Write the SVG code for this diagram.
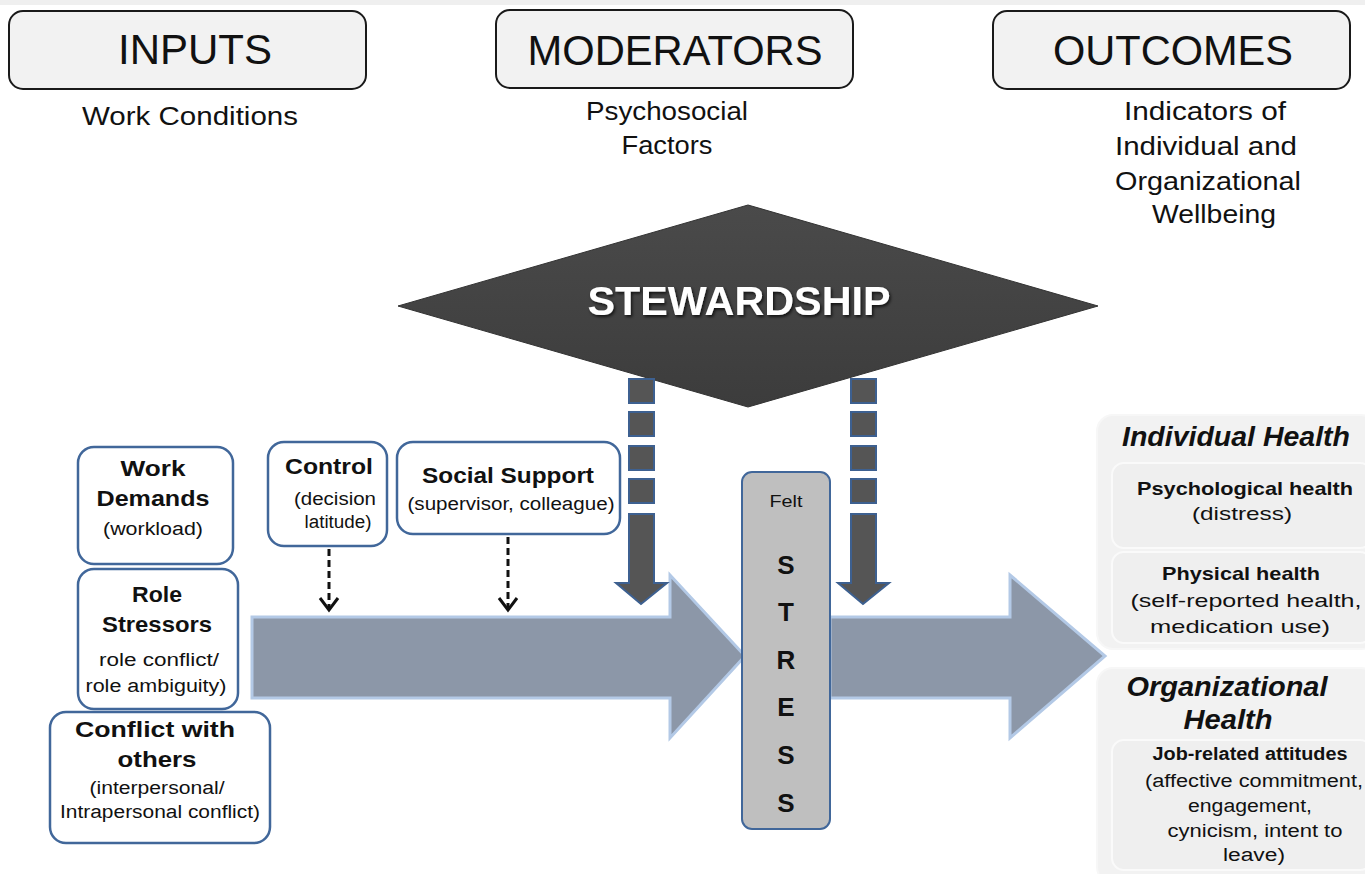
<svg xmlns="http://www.w3.org/2000/svg" width="1365" height="874" viewBox="0 0 1365 874">
<defs>
<style>
text{font-family:"Liberation Sans",Arial,sans-serif;fill:#111;text-anchor:middle}
.hdr{fill:#f2f2f2;stroke:#1a1a1a;stroke-width:2}
.ht{font-size:42px}
.sub{font-size:25px}
.in{fill:#fff;stroke:#41679a;stroke-width:2.5}
.b{font-weight:bold;font-size:22px}
.s{font-size:18px}
.big{fill:#8c97a8;stroke:#b3c9e6;stroke-width:3}
.mod{fill:#555;stroke:#3d6090;stroke-width:2}
.dash{stroke:#111;stroke-width:3;stroke-dasharray:7 4;fill:none}
.chev{stroke:#111;stroke-width:3;fill:none}
.panel{fill:#f2f2f2;stroke:#f7f7f7;stroke-width:2}
.inner{fill:#efefef;stroke:#fafafa;stroke-width:2}
.oh{font-weight:bold;font-style:italic;font-size:27px}
.ob{font-weight:bold;font-size:19px}
.os{font-size:19px}
.jb{font-weight:bold;font-size:18px}
.js{font-size:18px}
.st{font-weight:bold;font-size:26px}
</style>
<linearGradient id="dg" x1="0" y1="0" x2="0" y2="1">
<stop offset="0" stop-color="#4a4a4a"/><stop offset="1" stop-color="#3c3c3c"/>
</linearGradient>
<filter id="sh" x="-10%" y="-10%" width="130%" height="140%"><feDropShadow dx="1.5" dy="2" stdDeviation="1.5" flood-color="#000" flood-opacity="0.7"/></filter>
</defs>
<rect x="0" y="0" width="1365" height="874" fill="#fff"/>
<rect x="0" y="0" width="1365" height="5" fill="#efefef"/>

<g id="inputs"><rect class="hdr" x="9" y="11" width="357" height="78" rx="14"/><text class="ht" x="195" y="64" textLength="154" lengthAdjust="spacingAndGlyphs">INPUTS</text><text class="sub" x="190" y="125" textLength="216" lengthAdjust="spacingAndGlyphs">Work Conditions</text></g>
<g id="moderators"><rect class="hdr" x="496" y="10" width="357" height="78" rx="14"/><text class="ht" x="675" y="65" textLength="295" lengthAdjust="spacingAndGlyphs">MODERATORS</text><text class="sub" x="667" y="120" textLength="162" lengthAdjust="spacingAndGlyphs">Psychosocial</text><text class="sub" x="667" y="154" textLength="91" lengthAdjust="spacingAndGlyphs">Factors</text></g>
<g id="outcomes"><rect class="hdr" x="993" y="11" width="357" height="78" rx="14"/><text class="ht" x="1173" y="65" textLength="240" lengthAdjust="spacingAndGlyphs">OUTCOMES</text><text class="sub" x="1205" y="120" textLength="162" lengthAdjust="spacingAndGlyphs">Indicators of</text><text class="sub" x="1206" y="155" textLength="182" lengthAdjust="spacingAndGlyphs">Individual and</text><text class="sub" x="1208" y="190" textLength="186" lengthAdjust="spacingAndGlyphs">Organizational</text><text class="sub" x="1214" y="223" textLength="124" lengthAdjust="spacingAndGlyphs">Wellbeing</text></g>

<g id="flow">
<polygon class="big" points="252,617 670,617 670,575 745,656 670,738 670,698 252,698"/>
<polygon class="big" points="830,617 1010,617 1010,575 1105,656 1010,738 1010,698 830,698"/>
</g>

<g id="stewardship"><polygon points="398,306 748,205 1098,306 748,407" fill="url(#dg)" stroke="#333" stroke-width="1"/><text x="739" y="315" font-size="40" font-weight="bold" style="fill:#fff" filter="url(#sh)" textLength="303" lengthAdjust="spacingAndGlyphs">STEWARDSHIP</text></g>

<g id="connectors">
<rect class="mod" x="629" y="379" width="25" height="24"/><rect class="mod" x="629" y="412" width="25" height="24"/><rect class="mod" x="629" y="446" width="25" height="24"/><rect class="mod" x="629" y="479" width="25" height="24"/>
<polygon class="mod" points="629,514 654,514 654,583 667,583 641,604 616,583 629,583"/>
<rect class="mod" x="851" y="379" width="25" height="24"/><rect class="mod" x="851" y="412" width="25" height="24"/><rect class="mod" x="851" y="446" width="25" height="24"/><rect class="mod" x="851" y="479" width="25" height="24"/>
<polygon class="mod" points="851,514 876,514 876,583 889,583 863,604 838,583 851,583"/>
<line class="dash" x1="329" y1="549" x2="329" y2="608"/><polyline class="chev" points="320,598 329,610 338,598"/>
<line class="dash" x1="508" y1="537" x2="508" y2="608"/><polyline class="chev" points="499,598 508,610 517,598"/>
</g>

<g id="stress"><rect x="742" y="472" width="88" height="357" rx="10" fill="#bfbfbf" stroke="#41679a" stroke-width="2"/>
<text x="786" y="507" font-size="17" textLength="33" lengthAdjust="spacingAndGlyphs">Felt</text>
<text class="st" x="786" y="574">S</text><text class="st" x="786" y="621">T</text><text class="st" x="786" y="669">R</text><text class="st" x="786" y="716">E</text><text class="st" x="786" y="764">S</text><text class="st" x="786" y="812">S</text></g>

<g id="work-demands"><rect class="in" x="78" y="447" width="155" height="117" rx="16"/><text class="b" x="153" y="476" textLength="65" lengthAdjust="spacingAndGlyphs">Work</text><text class="b" x="153" y="506" textLength="113" lengthAdjust="spacingAndGlyphs">Demands</text><text class="s" x="153" y="535" textLength="100" lengthAdjust="spacingAndGlyphs">(workload)</text></g>
<g id="role-stressors"><rect class="in" x="78" y="569" width="160" height="140" rx="16"/><text class="b" x="157" y="602" textLength="50" lengthAdjust="spacingAndGlyphs">Role</text><text class="b" x="157" y="632" textLength="110" lengthAdjust="spacingAndGlyphs">Stressors</text><text class="s" x="159" y="666" textLength="120" lengthAdjust="spacingAndGlyphs">role conflict/</text><text class="s" x="156" y="692" textLength="141" lengthAdjust="spacingAndGlyphs">role ambiguity)</text></g>
<g id="conflict"><rect class="in" x="50" y="712" width="220" height="131" rx="16"/><text class="b" x="155" y="737" textLength="160" lengthAdjust="spacingAndGlyphs">Conflict with</text><text class="b" x="157" y="767" textLength="79" lengthAdjust="spacingAndGlyphs">others</text><text class="s" x="157" y="794" textLength="135" lengthAdjust="spacingAndGlyphs">(interpersonal/</text><text class="s" x="160" y="818" textLength="200" lengthAdjust="spacingAndGlyphs">Intrapersonal conflict)</text></g>
<g id="control"><rect class="in" x="268" y="442" width="119" height="104" rx="16"/><text class="b" x="329" y="474" textLength="88" lengthAdjust="spacingAndGlyphs">Control</text><text class="s" x="335" y="505" textLength="82" lengthAdjust="spacingAndGlyphs">(decision</text><text class="s" x="338" y="528" textLength="67" lengthAdjust="spacingAndGlyphs">latitude)</text></g>
<g id="social-support"><rect class="in" x="397" y="442" width="223" height="92" rx="16"/><text class="b" x="508" y="483" textLength="172" lengthAdjust="spacingAndGlyphs">Social Support</text><text class="s" x="511" y="510" textLength="207" lengthAdjust="spacingAndGlyphs">(supervisor, colleague)</text></g>

<g id="individual-health"><rect class="panel" x="1097" y="415" width="280" height="234" rx="16"/><text class="oh" x="1236" y="446" textLength="228" lengthAdjust="spacingAndGlyphs">Individual Health</text>
<rect class="inner" x="1112" y="463" width="260" height="85" rx="12"/><text class="ob" x="1245" y="495" textLength="216" lengthAdjust="spacingAndGlyphs">Psychological health</text><text class="os" x="1242" y="520" textLength="100" lengthAdjust="spacingAndGlyphs">(distress)</text>
<rect class="inner" x="1112" y="552" width="260" height="91" rx="12"/><text class="ob" x="1241" y="580" textLength="158" lengthAdjust="spacingAndGlyphs">Physical health</text><text class="os" x="1246" y="607" textLength="231" lengthAdjust="spacingAndGlyphs">(self-reported health,</text><text class="os" x="1240" y="633" textLength="180" lengthAdjust="spacingAndGlyphs">medication use)</text></g>
<g id="organizational-health"><rect class="panel" x="1097" y="668" width="280" height="215" rx="16"/><text class="oh" x="1227" y="696" textLength="201" lengthAdjust="spacingAndGlyphs">Organizational</text><text class="oh" x="1228" y="729" textLength="89" lengthAdjust="spacingAndGlyphs">Health</text>
<rect class="inner" x="1112" y="740" width="260" height="130" rx="12"/><text class="jb" x="1250" y="760" textLength="195" lengthAdjust="spacingAndGlyphs">Job-related attitudes</text><text class="js" x="1254" y="787" textLength="218" lengthAdjust="spacingAndGlyphs">(affective commitment,</text><text class="js" x="1250" y="812" textLength="124" lengthAdjust="spacingAndGlyphs">engagement,</text><text class="js" x="1255" y="837" textLength="175" lengthAdjust="spacingAndGlyphs">cynicism, intent to</text><text class="js" x="1254" y="861" textLength="62" lengthAdjust="spacingAndGlyphs">leave)</text></g>
</svg>
